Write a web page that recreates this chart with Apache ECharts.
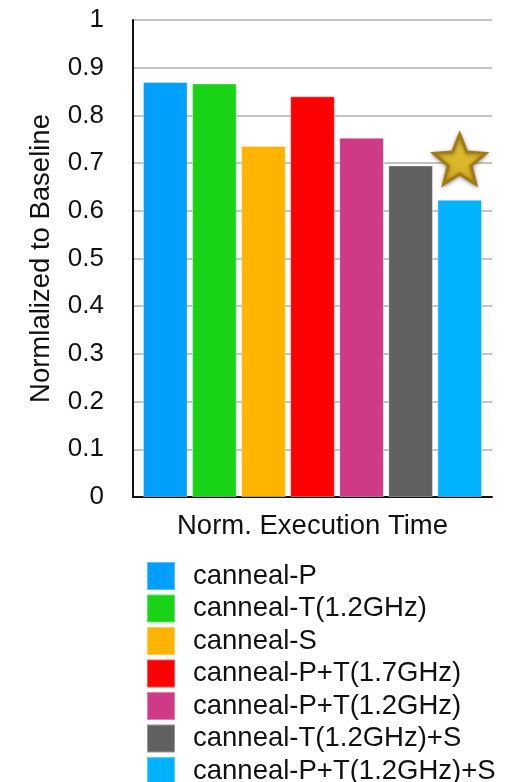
<!DOCTYPE html>
<html>
<head>
<meta charset="utf-8">
<script src="https://cdn.jsdelivr.net/npm/echarts@6/dist/echarts.min.js"></script>
<style>
  html, body { margin: 0; padding: 0; background: #fff; }
  #chart { width: 505px; height: 782px; }
</style>
</head>
<body>
<div id="chart"></div>
<script>
// Single metric, seven configurations
const categories = ['Norm. Execution Time'];
const seriesNames = [
  'canneal-P',
  'canneal-T(1.2GHz)',
  'canneal-S',
  'canneal-P+T(1.7GHz)',
  'canneal-P+T(1.2GHz)',
  'canneal-T(1.2GHz)+S',
  'canneal-P+T(1.2GHz)+S'
];
const seriesValues = [0.870, 0.867, 0.736, 0.840, 0.753, 0.695, 0.623];
const seriesColors = ['#00a0fc', '#19d416', '#ffb400', '#ff0000', '#cf3a86', '#606060', '#00b2ff'];
// Height of the star that flags the best configuration
const starValue = 0.708;

const FONT = '"Liberation Sans", Arial, Helvetica, sans-serif';
const STAR = 'path://M50 0 L62.93 32.2 L97.55 34.55 L70.92 56.8 L79.39 90.45 L50 72 L20.61 90.45 L29.08 56.8 L2.45 34.55 L37.07 32.2 Z';

const chart = echarts.init(document.getElementById('chart'), null, { renderer: 'canvas' });

const series = seriesNames.map((name, i) => {
  const s = {
    name: name,
    type: 'bar',
    data: [seriesValues[i]],
    barWidth: 44.6,
    barGap: '10%',
    itemStyle: {
      color: seriesColors[i],
      borderColor: 'rgba(255,255,255,0.35)',
      borderWidth: 1
    },
    emphasis: { disabled: true },
    animation: false
  };
  if (i === seriesNames.length - 1) {
    s.markPoint = {
      symbol: STAR,
      symbolSize: [52, 50],
      silent: true,
      label: { show: false },
      itemStyle: {
        color: new echarts.graphic.LinearGradient(0, 0, 0, 1, [
          { offset: 0, color: '#e6c435' },
          { offset: 1, color: '#d2ad22' }
        ]),
        borderColor: '#a27a14',
        borderWidth: 3,
        shadowColor: 'rgba(0,0,0,0.35)',
        shadowBlur: 4,
        shadowOffsetY: 1
      },
      data: [{ coord: [0, starValue] }]
    };
  }
  return s;
});

chart.setOption({
  backgroundColor: '#ffffff',
  animation: false,
  grid: { left: 133, right: 13, top: 20, bottom: 285, containLabel: false },
  legend: {
    orient: 'vertical',
    left: 141,
    top: 556,
    height: 260,
    padding: 5,
    itemWidth: 28,
    itemHeight: 28,
    itemGap: 2.5,
    icon: 'rect',
    selectedMode: false,
    data: seriesNames,
    textStyle: {
      fontFamily: FONT,
      fontSize: 27.5,
      lineHeight: 28,
      color: '#111',
      padding: [0, 0, 0, 13]
    }
  },
  xAxis: {
    type: 'category',
    data: categories,
    axisLine: { show: true, lineStyle: { color: '#111', width: 2 } },
    axisTick: { show: false },
    axisLabel: {
      margin: 15,
      fontFamily: FONT,
      fontSize: 27.5,
      color: '#111'
    },
    splitLine: { show: false }
  },
  yAxis: {
    type: 'value',
    min: 0,
    max: 1,
    interval: 0.1,
    name: 'Normlalized to Baseline',
    nameLocation: 'middle',
    nameGap: 78,
    nameRotate: 90,
    nameTextStyle: {
      fontFamily: FONT,
      fontSize: 27.5,
      color: '#111'
    },
    axisLine: { show: true, lineStyle: { color: '#111', width: 2 } },
    axisTick: { show: false },
    axisLabel: {
      margin: 29,
      fontFamily: FONT,
      fontSize: 26,
      color: '#111'
    },
    splitLine: { show: true, lineStyle: { color: '#c4c4c4', width: 2 } }
  },
  series: series
});
</script>
</body>
</html>
